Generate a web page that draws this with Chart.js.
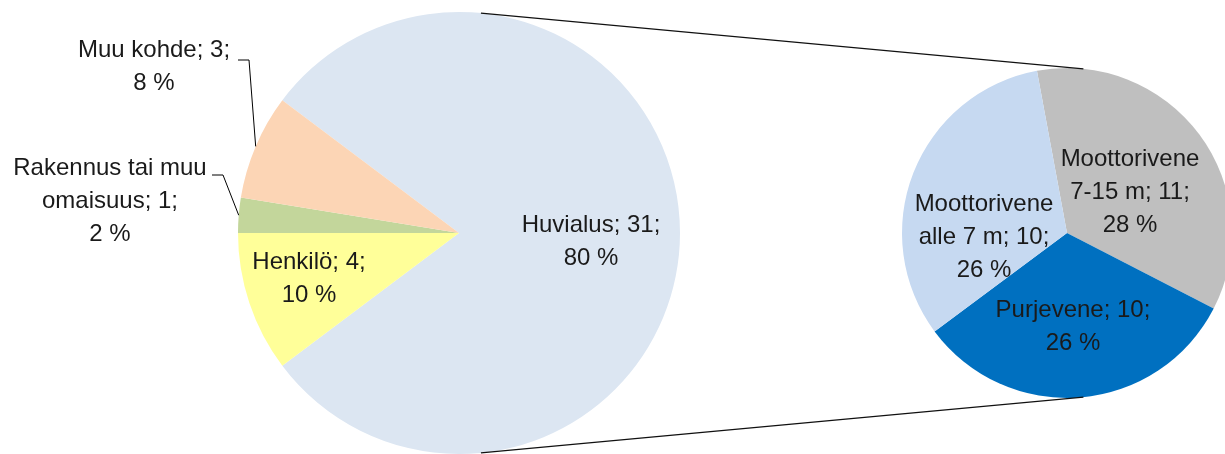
<!DOCTYPE html>
<html><head><meta charset="utf-8">
<script src="https://cdn.jsdelivr.net/npm/chart.js@4/dist/chart.umd.min.js"></script>
<style>
html,body{margin:0;padding:0;background:#fff;overflow:hidden;width:1225px;height:454px}
canvas{position:absolute;left:0;top:0}
</style></head><body>
<canvas id="c1" width="1240" height="454"></canvas>
<canvas id="c2" width="1240" height="454"></canvas>
<script>
// ---- data ----
const mainCategories = ['Huvialus', 'Henkilö', 'Rakennus tai muu omaisuus', 'Muu kohde'];
const mainValues = [31, 4, 1, 3];
const mainPercentLabels = ['80 %', '10 %', '2 %', '8 %'];
const subCategories = ['Moottorivene 7-15 m', 'Purjevene', 'Moottorivene alle 7 m'];
const subValues = [11, 10, 10];
const subPercentLabels = ['28 %', '26 %', '26 %'];

// ---- styles ----
const mainColors = ['#DCE6F2', '#FFFF99', '#C3D69B', '#FCD5B5'];
const subColors = ['#BFBFBF', '#0070C0', '#C6D9F1'];
const FONT = '24px "Liberation Sans", Arial, sans-serif';
const TEXT_COLOR = '#1a1a1a';
const LINE_H = 33;
// label placement: offset of block centre from pie centre, wrap width, optional leader elbow
const mainLabelCfg = [
  {dx: 132, dy: 9, wrap: 200},
  {dx: -150, dy: 46, wrap: 200},
  {dx: -349, dy: -32, wrap: 205, leader: {x1: -247, x2: -236, y: -58}},
  {dx: -305, dy: -166, wrap: 205, leader: {x1: -221, x2: -210, y: -173}}
];
const subLabelCfg = [
  {dx: 63, dy: -41, wrap: 165},
  {dx: 6, dy: 94, wrap: 165},
  {dx: -83, dy: 4, wrap: 165}
];
const CONNECTOR_ANGLE = 84.3; // degrees from horizontal

function wrapText(ctx, text, maxW) {
  const words = text.split(' ');
  const lines = [];
  let cur = '';
  for (const w of words) {
    const t = cur ? cur + ' ' + w : w;
    if (ctx.measureText(t).width > maxW && cur) { lines.push(cur); cur = w; }
    else cur = t;
  }
  if (cur) lines.push(cur);
  return lines;
}

function drawLabels(chart, cats, vals, pcts, cfg) {
  const ctx = chart.ctx;
  const arcs = chart.getDatasetMeta(0).data;
  const cx = arcs[0].x, cy = arcs[0].y, R = arcs[0].outerRadius;
  ctx.save();
  ctx.font = FONT;
  ctx.fillStyle = TEXT_COLOR;
  ctx.textAlign = 'center';
  ctx.textBaseline = 'middle';
  cats.forEach((c, i) => {
    const lines = wrapText(ctx, c + '; ' + vals[i] + ';', cfg[i].wrap);
    lines.push(pcts[i]);
    const bx = cx + cfg[i].dx, by = cy + cfg[i].dy;
    const y0 = by - (lines.length - 1) * LINE_H / 2;
    lines.forEach((l, k) => ctx.fillText(l, bx, y0 + k * LINE_H));
    if (cfg[i].leader) {
      const a = arcs[i];
      const mid = (a.startAngle + a.endAngle) / 2;
      const ex = cx + Math.cos(mid) * R, ey = cy + Math.sin(mid) * R;
      const L = cfg[i].leader;
      ctx.strokeStyle = '#000';
      ctx.lineWidth = 1;
      ctx.beginPath();
      ctx.moveTo(cx + L.x1, cy + L.y);
      ctx.lineTo(cx + L.x2, cy + L.y);
      ctx.lineTo(ex, ey);
      ctx.stroke();
    }
  });
  ctx.restore();
}

const total = mainValues.reduce((a, b) => a + b, 0);
const mainRotation = 90 - (mainValues[0] / total) * 180;

const chart1 = new Chart(document.getElementById('c1'), {
  type: 'pie',
  data: {
    labels: mainCategories,
    datasets: [{data: mainValues, backgroundColor: mainColors, borderWidth: 0, hoverOffset: 0, offset: 0}]
  },
  options: {
    responsive: false, animation: false, rotation: mainRotation,
    layout: {padding: {left: 238, right: 560, top: 12, bottom: 0}},
    plugins: {legend: {display: false}, tooltip: {enabled: false}},
    events: []
  },
  plugins: [{
    id: 'mainLabels',
    afterDraw(chart) { drawLabels(chart, mainCategories, mainValues, mainPercentLabels, mainLabelCfg); }
  }]
});

const chart2 = new Chart(document.getElementById('c2'), {
  type: 'pie',
  data: {
    labels: subCategories,
    datasets: [{data: subValues, backgroundColor: subColors, borderWidth: 0, hoverOffset: 0, offset: 0}]
  },
  options: {
    responsive: false, animation: false, rotation: -10.5,
    layout: {padding: {left: 902, right: 8, top: 68, bottom: 56}},
    plugins: {legend: {display: false}, tooltip: {enabled: false}},
    events: []
  },
  plugins: [{
    id: 'subLabels',
    afterDraw(chart) {
      drawLabels(chart, subCategories, subValues, subPercentLabels, subLabelCfg);
      // connector lines between the two pies
      const m = chart1.getDatasetMeta(0).data[0];
      const s = chart.getDatasetMeta(0).data[0];
      const ctx = chart.ctx;
      const a = CONNECTOR_ANGLE * Math.PI / 180;
      ctx.save();
      ctx.strokeStyle = '#111';
      ctx.lineWidth = 1.3;
      [-1, 1].forEach(sg => {
        ctx.beginPath();
        ctx.moveTo(m.x + Math.cos(a) * m.outerRadius, m.y + sg * Math.sin(a) * m.outerRadius);
        ctx.lineTo(s.x + Math.cos(a) * s.outerRadius, s.y + sg * Math.sin(a) * s.outerRadius);
        ctx.stroke();
      });
      ctx.restore();
    }
  }]
});
</script>
</body></html>
